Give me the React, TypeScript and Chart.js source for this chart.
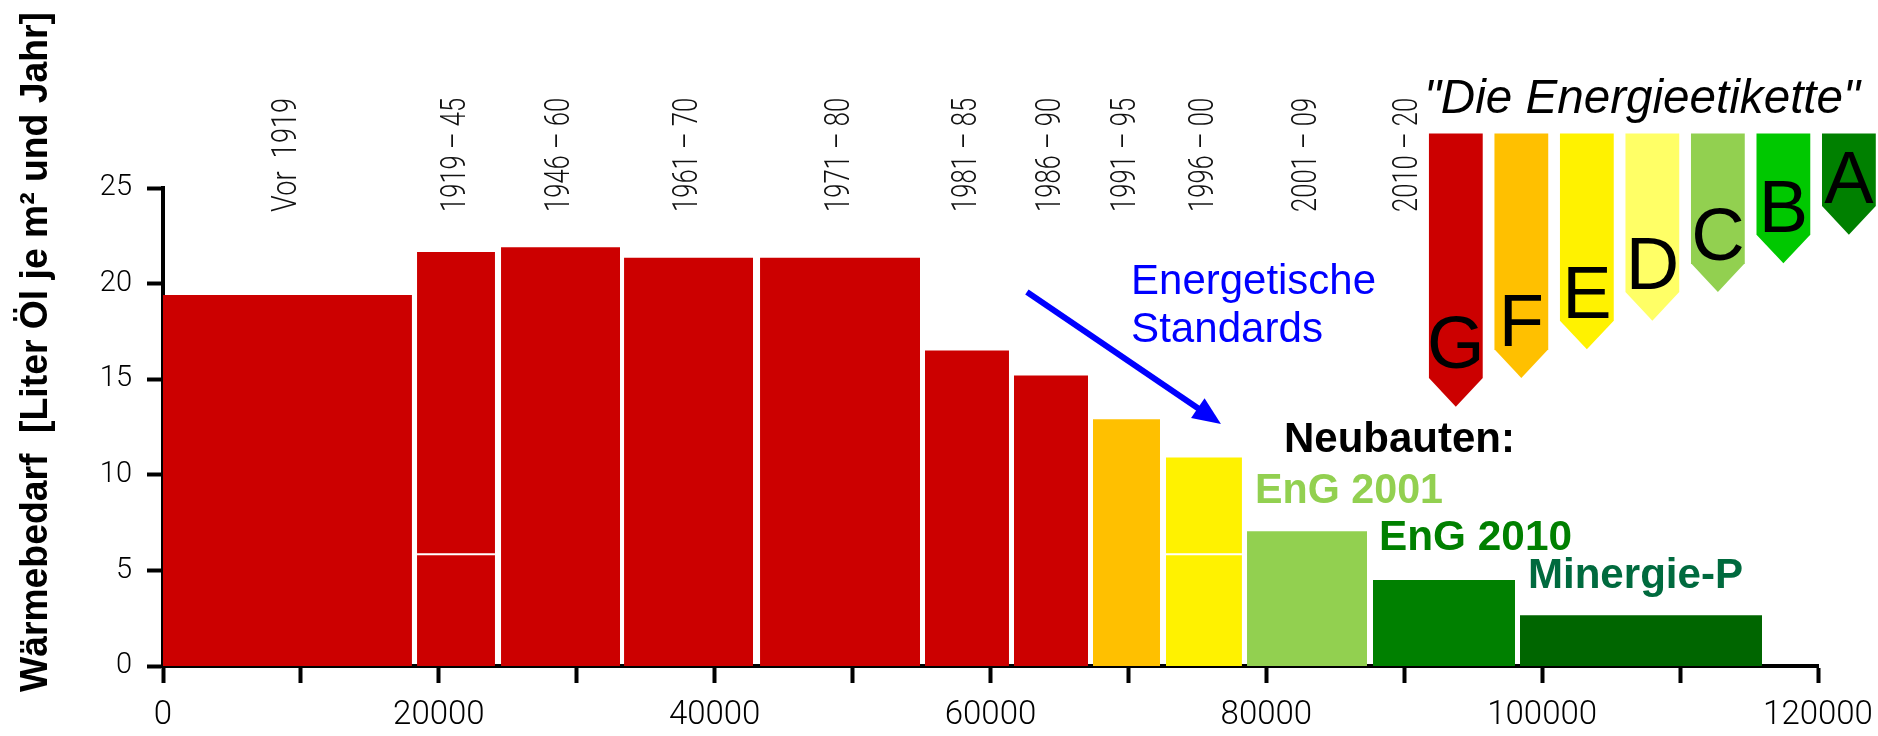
import React, { useEffect, useRef } from "react";
import { Chart, registerables } from "chart.js";

Chart.register(...registerables);

// ---------- data ----------
const periods = ["Vor  1919", "1919 – 45", "1946 – 60", "1961 – 70", "1971 – 80", "1981 – 85", "1986 – 90", "1991 – 95", "1996 – 00", "2001 – 09", "2010 – 20", ""];
const barStart = [0, 18420, 24510, 33430, 43290, 55250, 61700, 67430, 72720, 78600, 87730, 98390];
const barEnd = [18050, 24070, 33140, 42780, 54890, 61340, 67070, 72290, 78230, 87300, 98030, 115940];
const heatDemand = [19.4, 21.65, 21.9, 21.35, 21.35, 16.5, 15.2, 12.9, 10.9, 7.05, 4.5, 2.65];
const dividerLevel: (number | null)[] = [null, 5.85, null, null, null, null, null, null, 5.85, null, null, null];
const barColors = ["#CC0000", "#CC0000", "#CC0000", "#CC0000", "#CC0000", "#CC0000", "#CC0000", "#FFC000", "#FFF200", "#92D050", "#008000", "#006600"];
const xLabelled = [0, 20000, 40000, 60000, 80000, 100000, 120000];
const energyClasses = ["G", "F", "E", "D", "C", "B", "A"];
const energyClassColors = ["#CC0000", "#FFC000", "#FFF200", "#FFFF66", "#92D050", "#00C800", "#008000"];
const newBuildLabels = ["EnG 2001", "EnG 2010", "Minergie-P"];
const newBuildColors = ["#92D050", "#008000", "#006A3E"];
const yTitle = "Wärmebedarf  [Liter Öl je m² und Jahr]";

const LIGHT = "Roboto, 'Liberation Sans', Arial, sans-serif";
const SANS = "'Liberation Sans', Arial, sans-serif";

const decorations = {
  id: "decorations",
  afterDraw(chart: any) {
    const { ctx, chartArea } = chart;
    const xs = chart.scales.x;
    const ys = chart.scales.y;
    const X = (v: number) => xs.getPixelForValue(v);
    const Y = (v: number) => ys.getPixelForValue(v);

    const text = (
      s: string, x: number, y: number, font: string, color: string,
      width?: number, rotate = false, align: CanvasTextAlign = "left",
      baseline: CanvasTextBaseline = "alphabetic"
    ) => {
      ctx.save();
      ctx.font = font;
      ctx.fillStyle = color;
      ctx.textAlign = align;
      ctx.textBaseline = baseline;
      ctx.translate(x, y);
      if (rotate) ctx.rotate(-Math.PI / 2);
      if (width) {
        const w = ctx.measureText(s).width;
        if (w > 0) ctx.scale(width / w, 1);
      }
      ctx.fillText(s, 0, 0);
      ctx.restore();
    };

    // y-axis title
    text(yTitle, chartArea.left - 116, Y(16.42), `bold 38px ${SANS}`, "#000", 680, true, "center");

    // period labels
    periods.forEach((p, i) => {
      if (!p) return;
      const v = i === 10 ? barStart[i] + 0.25 * (barEnd[i] - barStart[i]) : (barStart[i] + barEnd[i]) / 2;
      text(p, X(v), Y(26.73), `300 35px ${LIGHT}`, "#111", 114, true, "center", "middle");
    });

    // energy label arrows
    energyClasses.forEach((c, i) => {
      const l = X(91790 + i * 4750);
      const r = X(91790 + i * 4750 + 3900);
      const top = Y(27.85);
      const bottomVal = 15.06 + 1.5 * i;
      const bot = Y(bottomVal);
      const tip = Y(bottomVal - 1.5);
      ctx.save();
      ctx.fillStyle = energyClassColors[i];
      ctx.beginPath();
      ctx.moveTo(l, top);
      ctx.lineTo(r, top);
      ctx.lineTo(r, bot);
      ctx.lineTo((l + r) / 2, tip);
      ctx.lineTo(l, bot);
      ctx.closePath();
      ctx.fill();
      ctx.restore();
      text(c, (l + r) / 2, bot - (i === 0 ? 10 : 3), `74px ${SANS}`, "#000", undefined, false, "center");
    });

    text('"Die Energieetikette"', X(91430), Y(28.92), `italic 48px ${SANS}`, "#000", 436);

    // blue arrow
    const x1 = X(62640), y1 = Y(19.56), x2 = X(76710), y2 = Y(12.66);
    const ang = Math.atan2(y2 - y1, x2 - x1);
    const hl = 28, hw = 12;
    const bx = x2 - hl * Math.cos(ang), by = y2 - hl * Math.sin(ang);
    ctx.save();
    ctx.strokeStyle = "#0000FF";
    ctx.fillStyle = "#0000FF";
    ctx.lineWidth = 6;
    ctx.beginPath();
    ctx.moveTo(x1, y1);
    ctx.lineTo(bx + 2 * Math.cos(ang), by + 2 * Math.sin(ang));
    ctx.stroke();
    ctx.beginPath();
    ctx.moveTo(x2, y2);
    ctx.lineTo(bx - hw * Math.sin(ang), by + hw * Math.cos(ang));
    ctx.lineTo(bx + hw * Math.sin(ang), by - hw * Math.cos(ang));
    ctx.closePath();
    ctx.fill();
    ctx.restore();

    text("Energetische", X(70190), Y(19.46), `42px ${SANS}`, "#0000FF", 245);
    text("Standards", X(70190), Y(16.95), `42px ${SANS}`, "#0000FF", 192);

    text("Neubauten:", X(81280), Y(11.19), `bold 43px ${SANS}`, "#000", 231);
    const nbX = [79180, 88170, 98970];
    const nbY = [8.53, 6.07, 4.08];
    const nbW = [188, 193, 215];
    newBuildLabels.forEach((s, i) => {
      text(s, X(nbX[i]), Y(nbY[i]), `bold 43px ${SANS}`, newBuildColors[i], nbW[i]);
    });
  },
};

export default function App() {
  const ref = useRef<HTMLCanvasElement | null>(null);

  useEffect(() => {
    document.body.style.margin = "0";
    document.body.style.overflow = "hidden";
    if (!ref.current) return;

    const datasets: any[] = [];
    heatDemand.forEach((h, i) => {
      datasets.push({
        data: [{ x: barStart[i], y: h }, { x: barEnd[i], y: h }],
        showLine: true,
        fill: "origin",
        backgroundColor: barColors[i],
        borderColor: "transparent",
        borderWidth: 0,
        pointRadius: 0,
        tension: 0,
        order: 2,
      });
    });
    dividerLevel.forEach((d, i) => {
      if (d === null) return;
      datasets.push({
        data: [{ x: barStart[i], y: d }, { x: barEnd[i], y: d }],
        showLine: true,
        fill: false,
        borderColor: "#FFFFFF",
        borderWidth: 2,
        pointRadius: 0,
        tension: 0,
        order: 0,
      });
    });

    const chart = new Chart(ref.current, {
      type: "scatter",
      data: { datasets },
      plugins: [decorations],
      options: {
        animation: false,
        responsive: false,
        events: [],
        layout: { padding: { left: 0, top: 188, right: 60, bottom: 0 } },
        plugins: { legend: { display: false }, tooltip: { enabled: false } },
        scales: {
          x: {
            type: "linear",
            min: 0,
            max: 120000,
            z: 1,
            afterFit: (s: any) => { s.height = 70; s.paddingLeft = 0; s.paddingRight = 0; },
            ticks: {
              stepSize: 10000,
              autoSkip: false,
              maxRotation: 0,
              minRotation: 0,
              padding: 13,
              color: "#000",
              font: { family: LIGHT, size: 33, weight: "300" },
              callback: (v: any) => (xLabelled.includes(Number(v)) ? String(v) : ""),
            },
            grid: { display: true, drawOnChartArea: false, drawTicks: true, tickLength: 17, tickWidth: 4, tickColor: "#000" },
            border: { display: true, color: "#000", width: 4 },
          },
          y: {
            type: "linear",
            min: 0,
            max: 25,
            z: 1,
            afterFit: (s: any) => { s.width = 163; s.paddingTop = 0; s.paddingBottom = 0; },
            ticks: {
              stepSize: 5,
              padding: 15,
              color: "#000",
              font: { family: LIGHT, size: 29, weight: "300" },
            },
            grid: { display: true, drawOnChartArea: false, drawTicks: true, tickLength: 16, tickWidth: 4, tickColor: "#000" },
            border: { display: true, color: "#000", width: 4 },
          },
        },
      } as any,
    });
    return () => chart.destroy();
  }, []);

  return <canvas ref={ref} width={1878} height={736} style={{ display: "block" }} />;
}
